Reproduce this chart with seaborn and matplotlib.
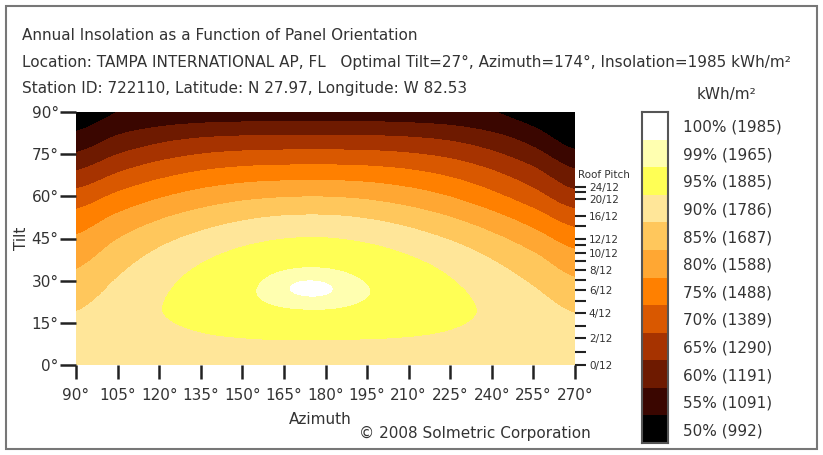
import numpy as np
import pandas as pd
import matplotlib
matplotlib.use("Agg")
import matplotlib.pyplot as plt
import seaborn as sns
from matplotlib.colors import ListedColormap, BoundaryNorm
from matplotlib.patches import Rectangle

# 方位角 / 倾角网格 (deg), 数值为最佳朝向年辐照量的百分比
azimuth = [90, 105, 120, 135, 150, 165, 180, 195, 210, 225, 240, 255, 270]
tilt = [0, 10, 20, 30, 40, 50, 60, 70, 80, 90]

pct_t00 = [93.5, 93.5, 93.5, 93.5, 93.5, 93.5, 93.5, 93.5, 93.5, 93.5, 93.5, 93.5, 93.5]
pct_t10 = [91.7, 92.9, 93.9, 94.7, 95.1, 95.3, 95.3, 95.2, 95.0, 94.6, 93.8, 92.8, 91.7]
pct_t20 = [89.8, 92.5, 94.85, 96.7, 98.1, 98.9, 99.05, 98.5, 97.5, 96.1, 94.3, 92.1, 89.6]
pct_t30 = [86.5, 90.4, 93.7, 96.4, 98.3, 99.55, 99.7, 98.9, 97.5, 95.3, 92.6, 89.4, 85.6]
pct_t40 = [82.8, 87.1, 90.8, 93.7, 95.9, 97.2, 97.4, 96.5, 94.7, 92.2, 89.0, 85.2, 80.8]
pct_t50 = [78.3, 82.5, 86.0, 88.8, 90.9, 92.2, 92.4, 91.4, 89.5, 86.8, 83.4, 79.2, 74.4]
pct_t60 = [72.1, 76.25, 79.6, 82.1, 83.9, 84.8, 84.95, 84.2, 82.5, 80.0, 76.5, 72.1, 66.8]
pct_t70 = [64.5, 68.9, 72.15, 74.4, 75.7, 76.2, 76.3, 75.9, 74.8, 72.8, 69.7, 65.5, 60.0]
pct_t80 = [57.1, 61.4, 64.2, 65.9, 66.65, 66.9, 66.9, 66.8, 66.2, 64.9, 62.4, 58.5, 52.9]
pct_t90 = [52.0, 55.1, 56.7, 57.4, 57.65, 57.7, 57.7, 57.7, 57.5, 56.9, 55.35, 52.3, 47.0]

# 图例
legend_pct = [100, 99, 95, 90, 85, 80, 75, 70, 65, 60, 55, 50]
legend_kwh = [1985, 1965, 1885, 1786, 1687, 1588, 1488, 1389, 1290, 1191, 1091, 992]

# 屋顶坡度刻度 (x/12)
pitch_major = [0, 2, 4, 6, 8, 10, 12, 16, 20, 24]
pitch_minor = [1, 3, 5, 7, 9, 11, 14, 22]

# 色带 (由低到高)
band_colors = ['#000000', '#3a0600', '#6e1a00', '#a63300', '#d95800', '#ff8000',
               '#ffa733', '#ffc75c', '#ffe699', '#ffff55', '#ffffb0', '#ffffff']
levels = [0, 55, 60, 65, 70, 75, 80, 85, 90, 95, 99, 99.75, 101]

sns.set_style("white")
plt.rcParams['font.family'] = ['DejaVu Sans']
txt = '#333333'

W, H = 823, 455
fig = plt.figure(figsize=(W / 100, H / 100), dpi=100)

def fx(px):
    return px / W

def fy(py):
    return 1 - py / H

cmap = ListedColormap(band_colors)
norm = BoundaryNorm(levels, cmap.N)

Z = np.array([pct_t00, pct_t10, pct_t20, pct_t30, pct_t40,
              pct_t50, pct_t60, pct_t70, pct_t80, pct_t90])

# 主图: 网格点为像素中心, 用 catrom 插值得到平滑色带边界
ax = fig.add_axes([fx(76), fy(365), fx(575) - fx(76), fy(112) - fy(365)])
da = azimuth[1] - azimuth[0]
dt = tilt[1] - tilt[0]
ax.imshow(Z, origin='lower', aspect='auto', cmap=cmap, norm=norm,
          interpolation='catrom', interpolation_stage='data',
          extent=(azimuth[0] - da / 2, azimuth[-1] + da / 2, tilt[0] - dt / 2, tilt[-1] + dt / 2))
ax.set_xlim(90, 270)
ax.set_ylim(0, 90)
xt = list(range(90, 271, 15))
yt = list(range(0, 91, 15))
ax.set_xticks(xt)
ax.set_xticklabels([f'{v}°' for v in xt])
ax.set_yticks(yt)
ax.set_yticklabels([f'{v}°' for v in yt])
ax.tick_params(axis='x', length=10, width=1.8, pad=6.5, color='#222222',
               labelcolor=txt, labelsize=11, bottom=True)
ax.tick_params(axis='y', length=11.5, width=1.8, pad=1, color='#222222',
               labelcolor=txt, labelsize=11, left=True)
for s in ax.spines.values():
    s.set_visible(False)

# 右侧屋顶坡度轴
ax2 = ax.twinx()
ax2.set_ylim(0, 90)
ax2.set_yticks([np.degrees(np.arctan(p / 12)) for p in pitch_major])
ax2.set_yticklabels([f'{p}/12' for p in pitch_major])
ax2.set_yticks([np.degrees(np.arctan(p / 12)) for p in pitch_minor], minor=True)
ax2.tick_params(axis='y', which='both', length=8, width=1.5, pad=2, color='#222222',
                labelcolor=txt, labelsize=7.5, right=True)
for s in ax2.spines.values():
    s.set_visible(False)
fig.text(fx(578), fy(175), 'Roof Pitch', fontsize=7.5, color=txt, ha='left', va='center')

# 图例色条 (seaborn heatmap)
legend_df = pd.DataFrame({'pct': legend_pct},
                         index=[f'{p}% ({k})' for p, k in zip(legend_pct, legend_kwh)])
cax = fig.add_axes([fx(642), fy(443), fx(668) - fx(642), fy(112) - fy(443)])
sns.heatmap(legend_df, ax=cax, cmap=cmap, norm=norm, cbar=False,
            xticklabels=False, yticklabels=True)
cax.yaxis.tick_right()
cax.tick_params(axis='y', length=0, pad=11, labelsize=11, labelcolor=txt, labelrotation=0)
cax.set_ylabel('')
for s in cax.spines.values():
    s.set_visible(True)
    s.set_color('#555555')
    s.set_linewidth(1.5)
fig.text(fx(727), fy(95), 'kWh/m²', fontsize=11, color=txt, ha='center', va='center')

# 文字
fig.text(fx(22), fy(35), 'Annual Insolation as a Function of Panel Orientation',
         fontsize=11, color=txt, va='center')
fig.text(fx(22), fy(62), 'Location: TAMPA INTERNATIONAL AP, FL   Optimal Tilt=27°, '
         'Azimuth=174°, Insolation=1985 kWh/m²', fontsize=11, color=txt, va='center')
fig.text(fx(22), fy(89), 'Station ID: 722110, Latitude: N 27.97, Longitude: W 82.53',
         fontsize=11, color=txt, va='center')
fig.text(fx(21), fy(238), 'Tilt', fontsize=11, color=txt, rotation=90, ha='center', va='center')
fig.text(fx(320), fy(420), 'Azimuth', fontsize=11, color=txt, ha='center', va='center')
fig.text(fx(591), fy(433), '© 2008 Solmetric Corporation', fontsize=11, color=txt,
         ha='right', va='center')

# 外框
fig.patches.append(Rectangle((fx(6), fy(449)), fx(817) - fx(6), fy(6) - fy(449),
                             transform=fig.transFigure, fill=False, ec='#777777', lw=1.5))

fig.savefig('out.png', dpi=100)
plt.close(fig)
